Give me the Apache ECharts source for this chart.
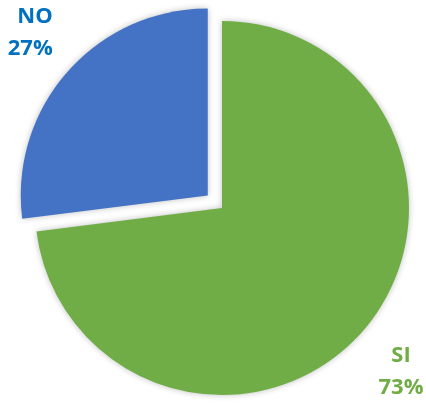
<!DOCTYPE html>
<html>
<head>
<meta charset="utf-8">
<script src="https://cdn.jsdelivr.net/npm/echarts@6/dist/echarts.min.js"></script>
<style>html,body{margin:0;padding:0;background:#fff}#c{width:426px;height:405px}</style>
</head>
<body>
<div id="c"></div>
<script>
const categories = ['SI', 'NO'];
const values = [73, 27];
const sliceColors = ['#70AD47', '#4472C4'];
const labelColors = ['#70AD47', '#0070C0'];

const labelPos = { SI: [401, 372], NO: [27, 45] };

const chart = echarts.init(document.getElementById('c'), null, { renderer: 'canvas' });
chart.setOption({
  animation: false,
  series: [{
    type: 'pie',
    center: [222, 208],
    radius: 187,
    startAngle: 90,
    clockwise: true,
    selectedMode: 'single',
    selectedOffset: 19,
    avoidLabelOverlap: false,
    itemStyle: { shadowBlur: 6, shadowColor: 'rgba(0,0,0,0.25)' },
    emphasis: { disabled: true },
    labelLine: { show: false },
    label: {
      show: true,
      position: 'outside',
      overflow: 'none',
      width: 80,
      formatter: '{b}\n{c}%',
      fontFamily: 'Open Sans',
      fontWeight: 'bold',
      fontSize: 22,
      lineHeight: 32,
      align: 'center'
    },
    labelLayout: function (p) {
      const name = categories[p.dataIndex];
      const pos = labelPos[name];
      if (name === 'SI') {
        return { x: pos[0], y: pos[1], align: 'center', verticalAlign: 'middle', hideOverlap: false };
      }
      const r = p.labelRect;
      return {
        dx: pos[0] - (r.x + r.width / 2),
        dy: pos[1] - (r.y + r.height / 2),
        hideOverlap: false
      };
    },
    data: categories.map((name, i) => ({
      name: name,
      value: values[i],
      selected: name === 'NO',
      itemStyle: { color: sliceColors[i] },
      label: { color: labelColors[i] }
    }))
  }]
});
</script>
</body>
</html>
